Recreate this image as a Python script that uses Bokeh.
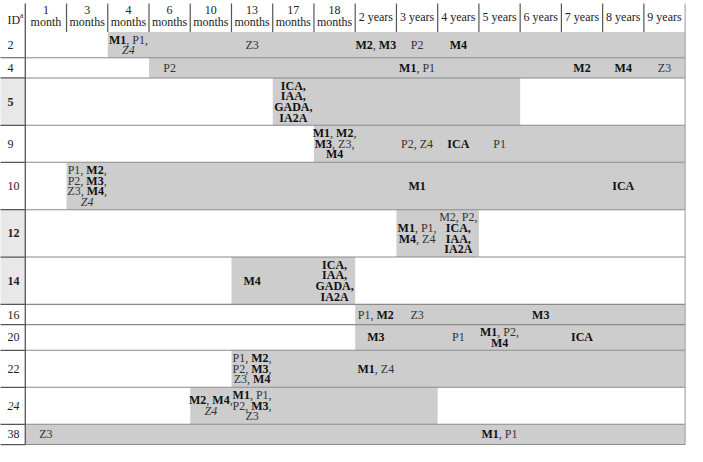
import re
from bokeh.plotting import figure
from bokeh.models import ColumnDataSource, Range1d
from bokeh.embed import file_html
from bokeh.resources import INLINE
from bokeh.core.properties import value

# ---------------- data ----------------
columns = ["1 month", "3 months", "4 months", "6 months", "10 months", "13 months",
           "17 months", "18 months", "2 years", "3 years", "4 years", "5 years",
           "6 years", "7 years", "8 years", "9 years"]

ids = ["2", "4", "5", "9", "10", "12", "14", "16", "20", "22", "24", "38"]
id_bold = ["5", "12", "14"]
id_italic = ["24"]

bar_start = ["4 months", "6 months", "17 months", "18 months", "3 months", "3 years",
             "13 months", "2 years", "2 years", "13 months", "10 months", "1 month"]
bar_end = ["9 years", "9 years", "5 years", "9 years", "9 years", "4 years",
           "18 months", "9 years", "9 years", "9 years", "3 years", "9 years"]

# notes: **bold**, _italic_, "/" = line break
note_id = ["2", "2", "2", "2", "2",
           "4", "4", "4", "4", "4",
           "5",
           "9", "9", "9", "9",
           "10", "10", "10",
           "12", "12",
           "14", "14",
           "16", "16", "16",
           "20", "20", "20", "20",
           "22", "22",
           "24", "24",
           "38", "38"]
note_col = ["4 months", "13 months", "2 years", "3 years", "4 years",
            "6 months", "3 years", "7 years", "8 years", "9 years",
            "17 months",
            "18 months", "3 years", "4 years", "5 years",
            "3 months", "3 years", "8 years",
            "3 years", "4 years",
            "13 months", "18 months",
            "2 years", "3 years", "6 years",
            "2 years", "4 years", "5 years", "7 years",
            "13 months", "2 years",
            "10 months", "13 months",
            "1 month", "5 years"]
note_text = ["**M1**, P1,/_Z4_", "Z3", "**M2**, **M3**", "P2", "**M4**",
             "P2", "**M1**, P1", "**M2**", "**M4**", "Z3",
             "**ICA,**/**IAA,**/**GADA,**/**IA2A**",
             "**M1**, **M2**,/**M3**, Z3,/**M4**", "P2, Z4", "**ICA**", "P1",
             "P1, **M2**,/P2, **M3**,/Z3, **M4**,/_Z4_", "**M1**", "**ICA**",
             "**M1**, P1,/**M4**, Z4", "M2, P2,/**ICA,**/**IAA,**/**IA2A**",
             "**M4**", "**ICA,**/**IAA,**/**GADA,**/**IA2A**",
             "P1, **M2**", "Z3", "**M3**",
             "**M3**", "P1", "**M1**, P2,/**M4**", "**ICA**",
             "P1, **M2**,/P2, **M3**,/Z3, **M4**", "**M1**, Z4",
             "**M2**, **M4**,/_Z4_", "**M1**, P1,/P2, **M3**,/Z3",
             "Z3", "**M1**, P1"]

# ---------------- layout / style ----------------
FONT = "Liberation Serif"
FS = 12
LINE = 10.8
COLW = 41.6            # px per column in the reference
ID_LEFT = -29 / COLW   # left edge of the ID column (column units)
HEADER_H = 36.0
ROW_H = {1: 20.5, 2: 26.0, 3: 37.5, 4: 48.0}
TOP = 7.0

BAR_COLOR = "#cdcdcd"
HILITE = "#e8e8e8"

W = {
    "normal": {"A": 722, "C": 667, "D": 722, "G": 722, "I": 333, "M": 889, "P": 556, "Z": 611,
               ",": 250, " ": 250},
    "bold": {"A": 722, "C": 722, "D": 722, "G": 778, "I": 389, "M": 944, "P": 611, "Z": 667,
             ",": 250, " ": 250},
    "italic": {"A": 611, "C": 667, "D": 722, "G": 722, "I": 333, "M": 833, "P": 611, "Z": 556,
               ",": 250, " ": 250},
}


def text_width(s, style):
    return sum(W[style].get(ch, 500) for ch in s) * FS / 1000.0


def parse(line):
    segs = []
    for m in re.finditer(r"\*\*(.+?)\*\*|_(.+?)_|([^*_]+)", line):
        if m.group(1) is not None:
            segs.append((m.group(1), "bold"))
        elif m.group(2) is not None:
            segs.append((m.group(2), "italic"))
        else:
            segs.append((m.group(3), "normal"))
    return segs


col_idx = {c: i for i, c in enumerate(columns)}

# row geometry from number of text lines
n_lines = {r: 1 for r in ids}
for r, t in zip(note_id, note_text):
    n_lines[r] = max(n_lines[r], len(t.split("/")))
row_top, row_bot = {}, {}
y = HEADER_H
for r in ids:
    row_top[r] = y
    y += ROW_H[n_lines[r]]
    row_bot[r] = y
BOTTOM = y

p = figure(width=687, height=446, output_backend="svg", toolbar_location=None,
           x_axis_type=None, y_axis_type=None,
           x_range=Range1d((4 - 29) / COLW, (697 - 29) / COLW),
           y_range=Range1d(456, 4), min_border=0)
p.outline_line_color = None
p.background_fill_color = "white"
p.border_fill_color = "white"

# ID highlights
hl = [r for r in ids if r in id_bold]
p.quad(left=[ID_LEFT] * len(hl), right=[0] * len(hl),
       top=[row_top[r] for r in hl], bottom=[row_bot[r] for r in hl],
       fill_color=HILITE, line_color=None)

# bars
p.quad(left=[col_idx[s] for s in bar_start], right=[col_idx[e] + 1 for e in bar_end],
       top=[row_top[r] for r in ids], bottom=[row_bot[r] for r in ids],
       fill_color=BAR_COLOR, line_color=None)

# row separators
ys = [row_bot[r] for r in ids]
p.segment(x0=[0] * len(ys), x1=[len(columns)] * len(ys), y0=ys, y1=ys,
          line_color="#8a8a8a", line_width=1.1)
p.segment(x0=[ID_LEFT] * len(ys), x1=[0] * len(ys), y0=ys, y1=ys,
          line_color="#555555", line_width=1.2)

# vertical lines
p.segment(x0=[0], x1=[0], y0=[TOP], y1=[BOTTOM], line_color="#555555", line_width=1.3)
hx = list(range(1, len(columns)))
p.segment(x0=hx, x1=hx, y0=[TOP] * len(hx), y1=[HEADER_H] * len(hx),
          line_color="#555555", line_width=1.2)
p.segment(x0=[len(columns)], x1=[len(columns)], y0=[TOP], y1=[BOTTOM],
          line_color="#a8a8a8", line_width=1.2)

# ---------------- texts ----------------
srcs = {s: dict(x=[], y=[], xo=[], text=[]) for s in ("normal", "bold", "italic")}


def add_cell(cx, cy, markup):
    lines = markup.split("/")
    n = len(lines)
    for i, ln in enumerate(lines):
        ly = cy + (i - (n - 1) / 2.0) * LINE
        segs = parse(ln)
        total = sum(text_width(t, st) for t, st in segs)
        off = -total / 2.0
        for t, st in segs:
            lead = len(t) - len(t.lstrip(" "))
            d = srcs[st]
            d["x"].append(cx)
            d["y"].append(ly)
            d["xo"].append(off + text_width(" " * lead, st))
            d["text"].append(t.lstrip(" "))
            off += text_width(t, st)


for r, c, t in zip(note_id, note_col, note_text):
    add_cell(col_idx[c] + 0.5, (row_top[r] + row_bot[r]) / 2.0, t)

common = dict(text_font=value(FONT), text_font_size=value(f"{FS}px"),
              text_align="left", text_baseline="middle")
p.text(x="x", y="y", text="text", x_offset="xo", source=ColumnDataSource(srcs["normal"]),
       text_color="#333333", **common)
p.text(x="x", y="y", text="text", x_offset="xo", source=ColumnDataSource(srcs["bold"]),
       text_color="#111111", text_font_style="bold", **common)
p.text(x="x", y="y", text="text", x_offset="xo", source=ColumnDataSource(srcs["italic"]),
       text_color="#333333", text_font_style="italic", **common)

# header labels
hx1, hy1, ht1 = [], [], []
for i, c in enumerate(columns):
    if "month" in c:
        num, word = c.split(" ")
        hx1 += [i + 0.5, i + 0.5]
        hy1 += [13.5, 26.0]
        ht1 += [num, word]
    else:
        hx1.append(i + 0.5)
        hy1.append(20.5)
        ht1.append(c)
p.text(x=hx1, y=hy1, text=ht1, text_font=value(FONT), text_font_size=value(f"{FS}px"),
       text_align="center", text_baseline="middle", text_color="#222222")

ID_X = (11 - 29) / COLW
p.text(x=[ID_X], y=[24.0], text=["ID"], text_font=value(FONT), text_font_size=value(f"{FS}px"),
       text_align="left", text_baseline="middle", text_color="#222222")
p.text(x=[(23.6 - 29) / COLW], y=[19.5], text=["a"], text_font=value(FONT),
       text_font_size=value("7.5px"), text_align="left", text_baseline="middle",
       text_color="#222222")

for style in ("normal", "bold", "italic"):
    rs = [r for r in ids if (style == "bold" and r in id_bold) or
          (style == "italic" and r in id_italic) or
          (style == "normal" and r not in id_bold and r not in id_italic)]
    p.text(x=[ID_X] * len(rs), y=[(row_top[r] + row_bot[r]) / 2.0 for r in rs], text=rs,
           text_font=value(FONT), text_font_size=value(f"{FS}px"),
           text_font_style=style, text_align="left", text_baseline="middle",
           text_color="#222222")

open("out.html", "w").write(file_html(p, INLINE))
